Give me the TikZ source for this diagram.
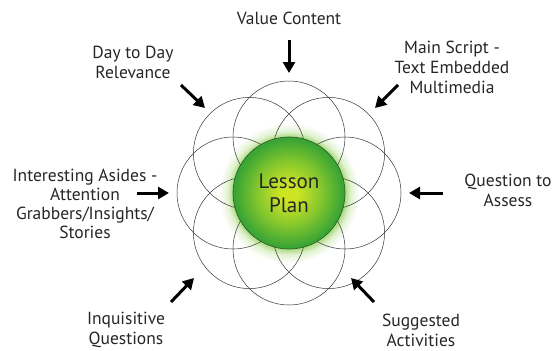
\documentclass[tikz,border=0pt]{standalone}
\usepackage{fontspec}
\setmainfont{PT Sans}
\usetikzlibrary{arrows.meta,calc}
\definecolor{ballgreen}{RGB}{58,165,52}
\definecolor{ballmid}{RGB}{135,200,45}
\definecolor{ballyellow}{RGB}{205,228,35}
\definecolor{balledge}{RGB}{45,95,45}
\definecolor{glowgreen}{RGB}{170,218,125}
\definecolor{glowpale}{RGB}{225,242,208}
% tikz fits the path box to the inner 25bp radius
\pgfdeclareradialshading{ballshade}{\pgfpoint{0bp}{0bp}}{color(0bp)=(ballyellow); color(4bp)=(ballyellow); color(14bp)=(ballmid); color(24bp)=(ballgreen); color(50bp)=(ballgreen)}
\pgfdeclareradialshading{glowshade}{\pgfpoint{0bp}{0bp}}{color(0bp)=(glowgreen); color(20bp)=(glowgreen); color(22bp)=(glowpale); color(25bp)=(white); color(50bp)=(white)}
\tikzset{
  lbl/.style={align=center, inner sep=0pt, font=\fontsize{17.5}{20}\selectfont, text=black!85},
  petal/.style={line width=0.5pt, draw=black!80},
  push/.style={line width=3pt, -{Triangle[length=11pt,width=12pt]}}
}

\begin{document}
\begin{tikzpicture}[x=1pt, y=-1pt]
			%%%%% START %%%%%
			\useasboundingbox (0,0) rectangle (555,351);
			
			% glow behind the ball
			\shade[shading=glowshade] (289,193) circle (70);
			
			% eight petals
			\foreach \a in {0,45,...,315}
				\draw[petal] ($(289,193)+({56*cos(\a)},{56*sin(\a)})$) circle (56);
			
			% the ball
			\node[circle, minimum size=112pt, shading=ballshade, draw=balledge, line width=0.7pt, align=center, font=\fontsize{21}{24}\selectfont, text=black!85] (plan) at (289,193) {Lesson\\Plan};
			
			\node[lbl] (value) at (289,18) {Value Content};
			\node[lbl] (relevance) at (133,62) {Day to Day\\Relevance};
			\node[lbl] (script) at (452,67) {Main Script -\\Text Embedded\\Multimedia};
			\node[lbl, font=\fontsize{17.5}{19}\selectfont] (asides) at (85,204) {Interesting Asides -\\Attention\\Grabbers/Insights/\\Stories};
			\node[lbl] (assess) at (508,190) {Question to\\Assess};
			\node[lbl] (inquire) at (126,330) {Inquisitive\\Questions};
			\node[lbl] (activities) at (421,330) {Suggested\\Activities};
			
			\coordinate (valueA) at (289,40);  \coordinate (valueB) at (289,73);
			\coordinate (relA) at (181,85);    \coordinate (relB) at (205,108);
			\coordinate (scriptA) at (398,85); \coordinate (scriptB) at (375,108);
			\coordinate (asideA) at (137,193); \coordinate (asideB) at (169,193);
			\coordinate (assessA) at (443,193);\coordinate (assessB) at (409,193);
			\coordinate (inqA) at (171,302);   \coordinate (inqB) at (194,278);
			\coordinate (actA) at (374,302);   \coordinate (actB) at (351,278);
			
			\draw[push] (valueA) -- (valueB);
			\draw[push] (relA) -- (relB);
			\draw[push] (scriptA) -- (scriptB);
			\draw[push] (asideA) -- (asideB);
			\draw[push] (assessA) -- (assessB);
			\draw[push] (inqA) -- (inqB);
			\draw[push] (actA) -- (actB);
			%%%%% END %%%%%
\end{tikzpicture}
\end{document}
